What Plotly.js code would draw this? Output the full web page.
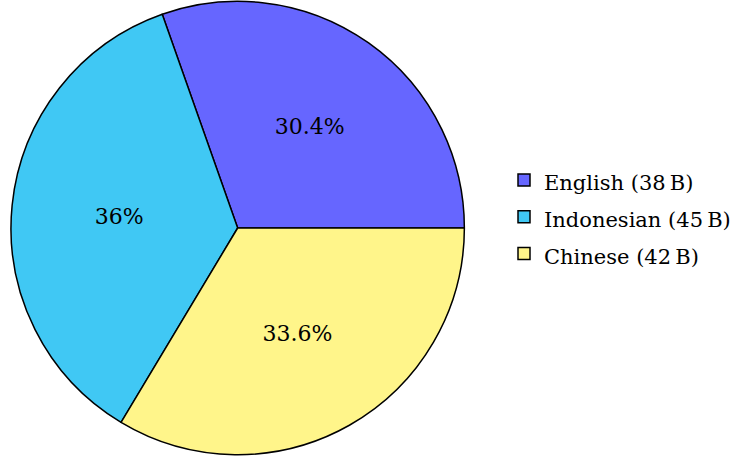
<!DOCTYPE html>
<html>
<head>
<meta charset="utf-8">
<script src="https://cdn.plot.ly/plotly-3.0.1.min.js"></script>
<style>html,body{margin:0;padding:0;background:#fff;}#chart{width:736px;height:459px;}</style>
</head>
<body>
<div id="chart"></div>
<script>
const languages = ["English", "Indonesian", "Chinese"];
const tokensB = [38, 45, 42];
const sliceColors = ["#6666FF", "#40C8F4", "#FFF58A"];

const labels = languages.map((l, i) =>
  '<span style="font-size:21px">' + l + " (" + tokensB[i] + "\u2009B)</span>");
const total = tokensB.reduce((a, b) => a + b, 0);
// first slice starts at 3 o'clock and runs counterclockwise
const startRotation = 90 - 360 * tokensB[0] / total;

const serif = "DejaVu Serif";

const data = [{
  type: "pie",
  labels: labels,
  values: tokensB,
  sort: false,
  direction: "counterclockwise",
  rotation: startRotation,
  marker: {colors: sliceColors, line: {color: "#000", width: 1.5}},
  textinfo: "percent",
  textposition: "inside",
  insidetextorientation: "horizontal",
  textfont: {family: serif, size: 22, color: "#000"},
  hoverinfo: "none",
  domain: {x: [11/736, 465/736], y: [4/459, 458/459]}
}];

const layout = {
  width: 736, height: 459,
  margin: {l: 0, r: 0, t: 0, b: 0},
  paper_bgcolor: "#fff",
  showlegend: true,
  legend: {x: 0.686, xanchor: "left", y: 0.527, yanchor: "middle",
           font: {family: serif, size: 26, color: "#000"},
           tracegroupgap: 0, itemwidth: 30},
  font: {family: serif}
};

Plotly.newPlot("chart", data, layout, {staticPlot: true});
</script>
</body>
</html>
